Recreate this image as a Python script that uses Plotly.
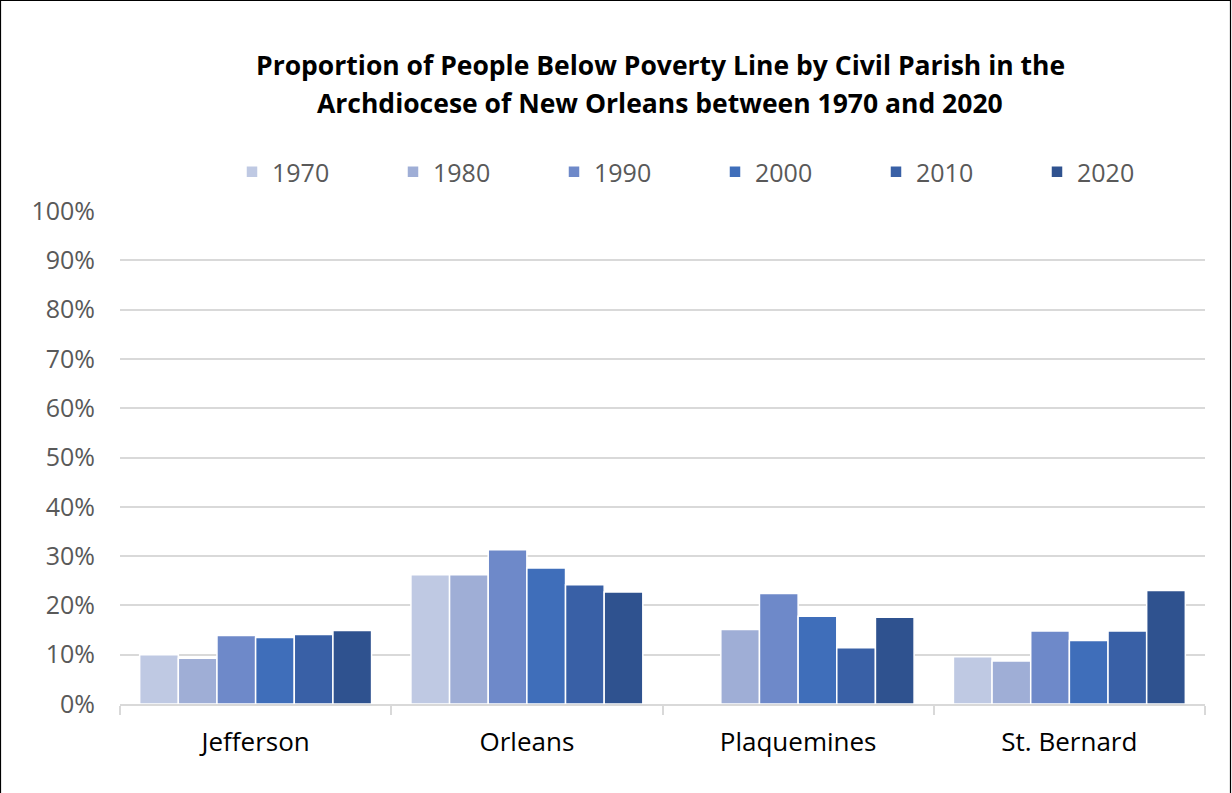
import plotly.graph_objects as go

parishes = ["Jefferson", "Orleans", "Plaquemines", "St. Bernard"]
years = ["1970", "1980", "1990", "2000", "2010", "2020"]
v1970 = [0.100, 0.262, None, 0.096]
v1980 = [0.093, 0.262, 0.151, 0.087]
v1990 = [0.139, 0.313, 0.224, 0.148]
v2000 = [0.135, 0.276, 0.178, 0.129]
v2010 = [0.141, 0.242, 0.114, 0.148]
v2020 = [0.149, 0.227, 0.176, 0.230]
series = [v1970, v1980, v1990, v2000, v2010, v2020]
colors = ["#BFC9E3", "#9FAED6", "#6E89C9", "#3F6EBA", "#3960A6", "#2F528F"]
title_lines = ["Proportion of People Below Poverty Line by Civil Parish in the",
               "Archdiocese of New Orleans between 1970 and 2020"]

FONT = "'Open Sans', sans-serif"
W, H = 1232, 793
L, R, T, B = 120, 27, 211, 89

fig = go.Figure()
for yr, vals, c in zip(years, series, colors):
    fig.add_trace(go.Bar(x=parishes, y=vals, name=yr, marker_color=c,
                         marker_line_color="white", marker_line_width=1.5))

pw = W - L - R
ph = H - T - B

def px_x(x):
    return (x - L) / pw

def px_y(y):
    return (H - B - y) / ph

fig.update_layout(
    width=W, height=H,
    margin=dict(l=L, r=R, t=T, b=B, autoexpand=False),
    paper_bgcolor="white", plot_bgcolor="white",
    barmode="group", bargap=0.145, bargroupgap=0.0,
    font=dict(family=FONT, color="#595959", size=20),
    legend=dict(orientation="h", x=px_x(232), y=px_y(172), xanchor="left", yanchor="middle",
                entrywidth=116, entrywidthmode="pixels",
                font=dict(size=25, color="#595959", family=FONT), traceorder="normal"),
    showlegend=True,
)
fig.update_yaxes(range=[0, 1], tickvals=[i / 10 for i in range(11)],
                 tickformat=".0%", showgrid=True, gridcolor="#D9D9D9", gridwidth=1.5,
                 zeroline=False, showline=False, ticks="", ticklabelstandoff=24,
                 tickfont=dict(size=25, color="#595959", family=FONT))
fig.update_xaxes(showline=True, linecolor="#D9D9D9", linewidth=1.5,
                 ticks="outside", tickson="boundaries", ticklen=9, tickcolor="#D9D9D9", tickwidth=1.5,
                 ticklabelstandoff=14,
                 tickfont=dict(size=26, color="#000000", family=FONT))

for i, (line, ypix) in enumerate(zip(title_lines, [65, 103])):
    fig.add_annotation(text="<b>%s</b>" % line, xref="paper", yref="paper",
                       x=px_x(660), y=px_y(ypix), xanchor="center", yanchor="middle",
                       showarrow=False, font=dict(size=26.5, color="#000000", family=FONT))

fig.add_shape(type="rect", xref="paper", yref="paper",
              x0=px_x(0.5), x1=px_x(1230.5), y0=px_y(0.5), y1=px_y(800),
              line=dict(color="#000000", width=1.2), fillcolor="rgba(0,0,0,0)", layer="above")

fig.write_html("out.html", config={"displayModeBar": False},
               post_script="document.body.style.margin='0px';document.body.style.overflow='hidden';")
